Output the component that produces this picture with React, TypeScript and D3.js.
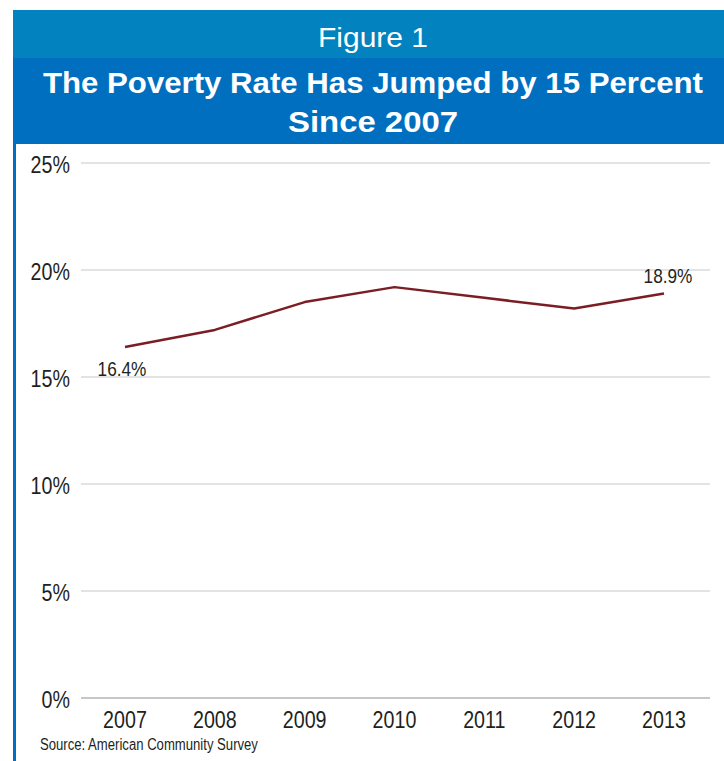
import React from "react";
import * as d3 from "d3";

const years = ["2007", "2008", "2009", "2010", "2011", "2012", "2013"];
const povertyRate = [16.4, 17.2, 18.5, 19.2, 18.7, 18.2, 18.9];
const yTicks = [0, 5, 10, 15, 20, 25];
const figureLabel = "Figure 1";
const titleLines = ["The Poverty Rate Has Jumped by 15 Percent", "Since 2007"];
const sourceText = "Source: American Community Survey";

const W = 724;
const H = 761;
const bodyFont = "'Liberation Sans', Arial, sans-serif";
const headFont = "'Liberation Sans', Arial, sans-serif";
const NARROW = 0.82;

function NText({
  x,
  y,
  anchor = "start",
  size,
  children,
}: {
  x: number;
  y: number;
  anchor?: string;
  size: number;
  children: React.ReactNode;
}) {
  return (
    <text
      transform={`translate(${x},${y}) scale(${NARROW},1)`}
      textAnchor={anchor}
      fontFamily={bodyFont}
      fontSize={size}
      fill="#231f20"
    >
      {children}
    </text>
  );
}

export default function App() {
  const x = d3.scalePoint<string>().domain(years).range([125, 664]);
  const y = d3.scaleLinear().domain([0, 25]).range([698, 163]);
  const line = d3
    .line<number>()
    .x((_, i) => x(years[i]) as number)
    .y((d) => y(d));

  const first = povertyRate[0];
  const last = povertyRate[povertyRate.length - 1];

  return (
    <svg
      width={W}
      height={H}
      style={{ position: "absolute", left: 0, top: 0, background: "#fff" }}
    >
      {/* header */}
      <rect x={13} y={10} width={W - 13} height={48} fill="#0283C0" />
      <rect x={13} y={58} width={W - 13} height={86} fill="#006FC0" />
      <rect x={13} y={144} width={3} height={H - 144} fill="#006FC0" />
      <text
        x={373}
        y={47}
        textAnchor="middle"
        fill="#fff"
        fontFamily={headFont}
        fontSize={28}
        textLength={110}
        lengthAdjust="spacingAndGlyphs"
      >
        {figureLabel}
      </text>
      <text
        x={373}
        y={93}
        textAnchor="middle"
        fill="#fff"
        fontFamily={headFont}
        fontWeight="bold"
        fontSize={29}
        textLength={660}
        lengthAdjust="spacingAndGlyphs"
      >
        {titleLines[0]}
      </text>
      <text
        x={373}
        y={132}
        textAnchor="middle"
        fill="#fff"
        fontFamily={headFont}
        fontWeight="bold"
        fontSize={29}
        textLength={170}
        lengthAdjust="spacingAndGlyphs"
      >
        {titleLines[1]}
      </text>

      {/* gridlines */}
      {yTicks.map((t) => (
        <g key={t}>
          <line
            x1={81}
            x2={710}
            y1={y(t)}
            y2={y(t)}
            stroke={t === 0 ? "#b5b5b5" : "#dadada"}
            strokeWidth={1.5}
          />
          <NText x={70} y={y(t) + 10} anchor="end" size={24}>
            {t}%
          </NText>
        </g>
      ))}

      {/* x labels */}
      {years.map((yr) => (
        <NText key={yr} x={x(yr) as number} y={728} anchor="middle" size={24}>
          {yr}
        </NText>
      ))}

      {/* line */}
      <path
        d={line(povertyRate) || ""}
        fill="none"
        stroke="#7A1E24"
        strokeWidth={2.5}
        strokeLinejoin="round"
      />

      {/* value labels */}
      <NText x={(x(years[0]) as number) - 3} y={y(first) + 29} anchor="middle" size={21}>
        {first}%
      </NText>
      <NText
        x={(x(years[years.length - 1]) as number) + 4}
        y={y(last) - 11}
        anchor="middle"
        size={21}
      >
        {last}%
      </NText>

      {/* source */}
      <NText x={40} y={750} size={16}>
        {sourceText}
      </NText>
    </svg>
  );
}
